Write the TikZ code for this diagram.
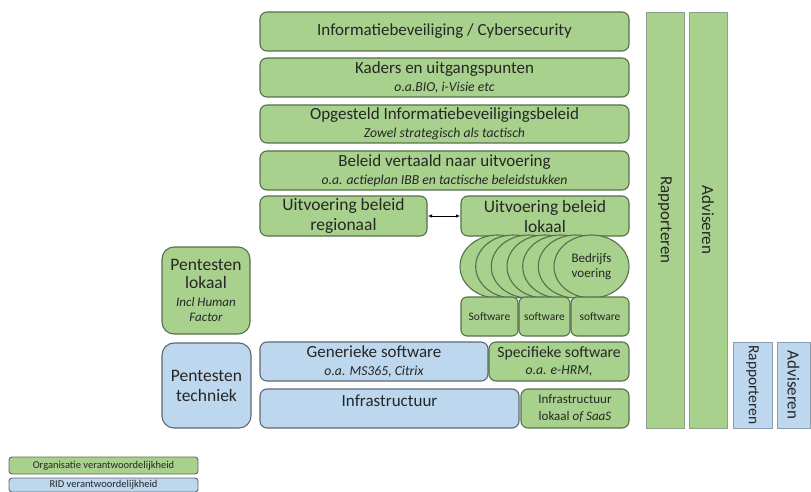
\documentclass[tikz,border=0pt]{standalone}
\usepackage{fontspec}
\setmainfont{Carlito}
\usetikzlibrary{arrows.meta,shapes.geometric}
\definecolor{gfill}{HTML}{A9D18E}
\definecolor{gline}{HTML}{56704C}
\definecolor{bfill}{HTML}{BDD7EE}
\definecolor{bline}{HTML}{5E6873}
\definecolor{txt}{HTML}{262626}
\definecolor{gbarline}{HTML}{8FA08A}
\definecolor{bbarline}{HTML}{8E9DAD}
\newcommand\fsz[2]{\fontsize{#1}{#2}\selectfont}
\newcommand\subtxt{\fsz{13.7}{16}\itshape}
\newcommand\smit{\fsz{13}{14}\itshape}
\begin{document}
\begin{tikzpicture}[x=1pt,y=-1pt,
  base/.style={inner sep=0pt, outer sep=0pt, text=txt, align=center},
  gbox/.style={base, draw=gline, fill=gfill, line width=1.1pt, rounded corners=7pt},
  bbox/.style={base, draw=bline, fill=bfill, line width=1.1pt, rounded corners=7pt},
  gbar/.style={base, draw=gbarline, fill=gfill, line width=0.9pt},
  bbar/.style={base, draw=bbarline, fill=bfill, line width=0.9pt},
  ttl/.style={font=\fsz{17}{18}},
  ell/.style={base, ellipse, draw=gline, fill=gfill, line width=1.1pt, minimum width=75pt, minimum height=63pt},
  swbox/.style={gbox, rounded corners=6pt, minimum height=39pt, font=\fsz{11.5}{13}},
  arr/.style={{Latex[length=4pt,width=3.5pt]}-{Latex[length=4pt,width=3.5pt]}, line width=0.6pt, black, shorten <=1pt, shorten >=1pt}
]
\useasboundingbox (0,0) rectangle (811,492);

% top layers
\node[gbox, ttl, minimum width=369pt, minimum height=39pt] (b1) at (444.5,31.5) {Informatiebeveiliging / Cybersecurity};
\node[gbox, ttl, minimum width=369pt, minimum height=39pt] (b2) at (444.5,77.5) {Kaders en uitgangspunten\\{\subtxt o.a.BIO, i-Visie etc}};
\node[gbox, ttl, minimum width=369pt, minimum height=38pt] (b3) at (444.5,124) {Opgesteld Informatiebeveiligingsbeleid\\{\subtxt Zowel strategisch als tactisch}};
\node[gbox, ttl, minimum width=369pt, minimum height=39pt] (b4) at (444.5,170.5) {Beleid vertaald naar uitvoering\\{\subtxt o.a. actieplan IBB en tactische beleidstukken}};

% uitvoering
\node[gbox, font=\fsz{17.5}{20}, minimum width=167pt, minimum height=40pt] (reg) at (343.5,216) {Uitvoering beleid\\regionaal};
\node[gbox, font=\fsz{17.5}{20}, minimum width=168pt, minimum height=40pt] (lok) at (545,216) {Uitvoering beleid\\lokaal};
\draw[arr] (reg) -- (lok);

% bedrijfsvoering ellipses
\node[ell] (e1) at (497.5,266.5) {};
\node[ell] (e2) at (513.2,266.5) {};
\node[ell] (e3) at (528.8,266.5) {};
\node[ell] (e4) at (544.5,266.5) {};
\node[ell] (e5) at (560.2,266.5) {};
\node[ell] (e6) at (575.8,266.5) {};
\node[ell, font=\fsz{13}{15}] (e7) at (591.5,266.5) {Bedrijfs\\voering};

% software
\node[swbox, minimum width=57pt] (sw1) at (489.5,316.5) {Software};
\node[swbox, minimum width=51pt] (sw2) at (544.5,316.5) {software};
\node[swbox, minimum width=58pt] (sw3) at (600,316.5) {software};

% generic / specific
\node[bbox, ttl, minimum width=228pt, minimum height=39pt] (gen) at (374,361.5) {Generieke software\\{\subtxt o.a. MS365, Citrix}};
\node[gbox, font=\fsz{15.7}{17}, minimum width=140pt, minimum height=39pt] (spec) at (559,361.5) {Specifieke software\\{\subtxt o.a. e-HRM,}};
\node[bbox, ttl, minimum width=259pt, minimum height=39pt, text height=12pt, text depth=16pt] (infra) at (389.5,408.5) {Infrastructuur};
\node[gbox, font=\fsz{13}{17}, minimum width=108pt, minimum height=39pt] (inl) at (575,408.5) {Infrastructuur\\lokaal {\itshape of SaaS}};

% pentesten
\node[gbox, rounded corners=12pt, font=\fsz{17.5}{18}, minimum width=88pt, minimum height=87pt] (pl) at (206,290.5) {Pentesten\\lokaal\\{\smit Incl Human}\\[-3pt]{\smit Factor}};
\node[bbox, rounded corners=12pt, font=\fsz{17.5}{20}, minimum width=89pt, minimum height=85pt] (pt) at (206.5,385.5) {Pentesten\\techniek};

% vertical bars
\node[gbar, rotate=-90, font=\fsz{17}{18}, minimum width=416pt, minimum height=38pt] (rap) at (665,220) {Rapporteren};
\node[gbar, rotate=-90, font=\fsz{17}{18}, minimum width=416pt, minimum height=38pt] (adv) at (708,220) {Adviseren};
\node[bbar, rotate=-90, font=\fsz{15.5}{17}, minimum width=86pt, minimum height=39pt] (srap) at (752.5,385) {Rapporteren};
\node[bbar, rotate=-90, font=\fsz{17}{18}, minimum width=86pt, minimum height=33pt] (sadv) at (793.5,385) {Adviseren};

% legend
\node[gbox, rounded corners=3pt, line width=0.9pt, font=\fsz{10.5}{12}, minimum width=189pt, minimum height=17pt] (leg1) at (103.5,465.5) {Organisatie verantwoordelijkheid};
\node[bbox, rounded corners=3pt, line width=0.9pt, font=\fsz{10.5}{12}, minimum width=189pt, minimum height=14pt] (leg2) at (103.5,485) {RID verantwoordelijkheid};
\end{tikzpicture}
\end{document}
